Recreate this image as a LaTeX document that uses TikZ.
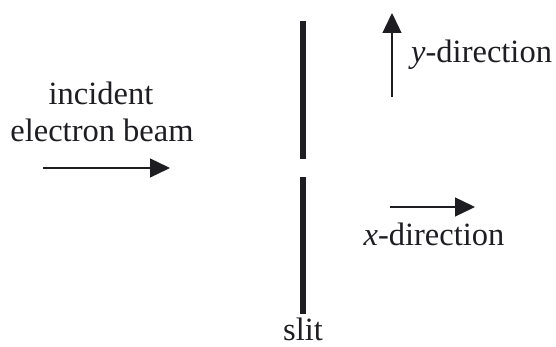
\documentclass[tikz,border=0pt]{standalone}
\usepackage{fontspec}
\setmainfont{Liberation Serif}
\newfontfamily\tnrfont{Liberation Serif}
\usetikzlibrary{arrows.meta}
\definecolor{ink}{RGB}{30,30,34}
\begin{document}
\begin{tikzpicture}[x=1pt,y=-1pt,
  lbl/.style={inner sep=0pt, anchor=base, font=\tnrfont\fontsize{32.5}{39}\selectfont, text=ink},
  arr/.style={line width=1.3pt, draw=ink, -{Triangle[length=20pt,width=19pt]}},
  slitbar/.style={line width=5.3pt, draw=ink}]
\useasboundingbox (0,0) rectangle (556,347);
% slit
\coordinate (s1t) at (303,21);
\coordinate (s1b) at (303,159);
\coordinate (s2t) at (303,177);
\coordinate (s2b) at (303,314);
\draw[slitbar] (s1t) -- (s1b);
\draw[slitbar] (s2t) -- (s2b);
% arrows
\coordinate (ia) at (43,168);
\coordinate (ib) at (170,168);
\coordinate (ya) at (392,97);
\coordinate (yb) at (392,13);
\coordinate (xa) at (390,207);
\coordinate (xb) at (475,207);
\draw[arr] (ia) -- (ib);
\draw[arr] (ya) -- (yb);
\draw[arr] (xa) -- (xb);
% labels
\node[lbl] (inc) at (101,105) {incident};
\node[lbl] (beam) at (102,142) {electron beam};
\node[lbl, anchor=base west] (ydir) at (411,63) {\textit{y}-direction};
\node[lbl] (xdir) at (434,245) {\textit{x}-direction};
\node[lbl] (slit) at (303,340) {slit};
\end{tikzpicture}
\end{document}
